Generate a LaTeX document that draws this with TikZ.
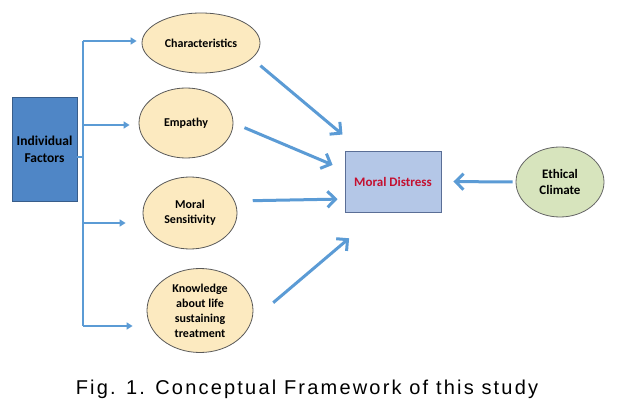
\documentclass[tikz,border=0pt]{standalone}
\usepackage{fontspec}
\usetikzlibrary{positioning, arrows.meta, shapes.geometric, calc}
\newfontfamily\labelfont{Carlito}
\newfontfamily\capfont[LetterSpace=11]{Liberation Sans}
\definecolor{arrowblue}{RGB}{91,155,213}
\definecolor{factorblue}{RGB}{79,134,198}
\definecolor{factoredge}{RGB}{56,93,138}
\definecolor{cream}{RGB}{252,234,192}
\definecolor{distressblue}{RGB}{180,199,231}
\definecolor{distressedge}{RGB}{90,110,150}
\definecolor{distressred}{RGB}{196,16,48}
\definecolor{climategreen}{RGB}{215,228,189}

\begin{document}
\begin{tikzpicture}[x=1pt, y=-1pt,
    factor/.style={ellipse, draw=black!65, fill=cream, line width=0.8pt, inner sep=0pt, align=center, font=\labelfont\bfseries\fontsize{12}{15}\selectfont},
    trunk/.style={draw=arrowblue, line width=2pt},
    branch/.style={trunk, -{Triangle[length=6pt,width=7pt]}},
    bigarrow/.style={draw=arrowblue, line width=3pt, -{Straight Barb[length=8pt,width=16pt]}}]
    \useasboundingbox (0,0) rectangle (624,406);
    % boxes and ellipses
    \node[draw=factoredge, fill=factorblue, line width=0.8pt, minimum width=65pt, minimum height=104pt, align=center,
          font=\labelfont\bfseries\fontsize{13.5}{17}\selectfont] (ind) at (44.5,149) {Individual\\Factors};
    \node[factor, minimum width=118pt, minimum height=60pt] (char) at (201,43) {Characteristics};
    \node[factor, minimum width=94pt, minimum height=70pt] (emp) at (186,123) {Empathy};
    \node[factor, minimum width=94pt, minimum height=72pt] (ms) at (190,213) {Moral\\Sensitivity};
    \node[factor, minimum width=106pt, minimum height=84pt] (kn) at (200,310.5) {Knowledge\\about life\\sustaining\\treatment};
    \node[draw=distressedge, fill=distressblue, line width=0.8pt, minimum width=96pt, minimum height=61pt,
          text=distressred, font=\labelfont\bfseries\fontsize{13}{16}\selectfont] (md) at (393,181.5) {Moral Distress};
    \node[ellipse, draw=black!60, fill=climategreen, line width=0.8pt, inner sep=0pt, minimum width=88pt, minimum height=70pt,
          align=center, font=\labelfont\bfseries\fontsize{13}{16.5}\selectfont] (ec) at (560,182) {Ethical\\Climate};
    % branch lines
    \coordinate (t0) at (83,157);
    \coordinate (t1) at (83,41);
    \coordinate (t2) at (83,125);
    \coordinate (t3) at (83,223);
    \coordinate (t4) at (83,326);
    \draw[trunk] (t0 -| ind.east) -- (t0);
    \draw[trunk] (t1) -- (t4);
    \draw[branch, shorten >=5pt] (t1) -- (t1 -| char.west);
    \draw[branch, shorten >=9pt] (t2) -- (t2 -| emp.west);
    \draw[branch, shorten >=17pt] (t3) -- (t3 -| ms.west);
    \draw[branch, shorten >=14pt] (t4) -- (t4 -| kn.west);
    % arrows to moral distress
    \draw[bigarrow, shorten <=11pt, shorten >=25pt] (char.-17) -- ($(md.north west)+(17,0)$);
    \draw[bigarrow, shorten <=12pt, shorten >=13pt] (emp.east) -- ($(md.west)+(0,-11.5)$);
    \draw[bigarrow, shorten <=18pt, shorten >=7pt] (ms.15) -- ($(md.west)+(0,17.5)$);
    \draw[bigarrow, shorten <=26pt, shorten >=40pt] ($(kn.east)+(0,9)$) -- ($(md.south west)+(35,0)$);
    \draw[bigarrow, shorten <=3pt, shorten >=12pt] (ec.west) -- (md.east);
    % caption
    \node[font=\capfont\fontsize{20}{24}\selectfont] (cap) at (307,389) {Fig. 1. Conceptual Framework of this study};
\end{tikzpicture}
\end{document}
